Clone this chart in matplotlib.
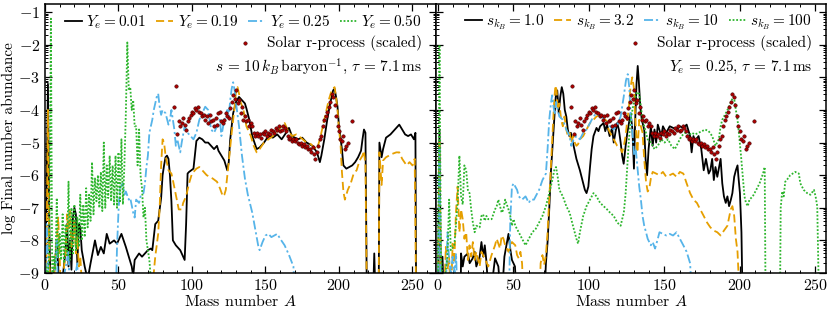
import numpy as np
import matplotlib
matplotlib.use("Agg")
import matplotlib.pyplot as plt
from matplotlib.ticker import MultipleLocator, FixedLocator

plt.rcParams['font.family'] = ['serif']
plt.rcParams['font.serif'] = ['cmr10', 'DejaVu Serif']
plt.rcParams['mathtext.fontset'] = 'cm'
plt.rcParams['axes.formatter.use_mathtext'] = True
plt.rcParams['font.size'] = 11.5

# ---------------- data: left panel (varying Ye) ----------------
ye001_A = [0, 1, 2, 3, 4, 7, 8, 9, 10, 14, 15, 16, 17, 18, 19, 20, 21, 22, 23, 24, 25, 27, 29, 31, 34, 36, 38, 40, 42, 44, 47, 49, 52, 55, 57, 59, 60, 61, 64, 66, 68, 70, 72, 73, 75, 77, 79, 80, 81, 82, 83, 84, 85, 86, 87, 89, 92, 95, 96, 97, 98, 101, 103, 105, 107, 109, 111, 113, 115, 117, 118, 120, 122, 124, 125, 126, 128, 130, 132, 134, 136, 137, 139, 141, 144, 146, 149, 152, 155, 158, 161, 164, 166, 168, 172, 175, 178, 182, 185, 187, 188, 190, 192, 194, 196, 197, 198, 199, 200, 202, 203, 205, 207, 209, 211, 213, 215, 216, 217, 218, 219, 223, 224, 225, 227, 227.5, 229, 230, 232, 235, 238, 241, 243, 245, 247, 249, 251, 252, 252.5]
ye001_y = [-10, -6.5, -3.2, -7.8, -10, -8.6, -8.0, -8.8, -10, -8.3, -7.5, -8.8, -8.0, -8.9, -7.3, -7.0, -7.2, -8.7, -7.5, -7.6, -8.3, -8.8, -9.2, -8.7, -8.0, -8.45, -8.2, -8.4, -7.8, -8.1, -8.0, -8.1, -7.8, -8.2, -8.5, -8.8, -9.1, -8.6, -8.4, -8.5, -8.4, -8.3, -8.25, -8.3, -7.5, -7.4, -6.7, -6.0, -5.7, -5.45, -5.4, -5.5, -6.0, -6.8, -8.0, -8.15, -8.3, -8.6, -7.5, -5.95, -5.9, -5.8, -4.95, -4.85, -4.9, -5.0, -5.0, -5.1, -5.2, -5.1, -5.25, -5.4, -5.55, -5.85, -5.6, -4.9, -4.1, -3.75, -3.6, -3.7, -3.8, -3.95, -4.3, -4.8, -5.2, -5.15, -5.0, -4.8, -4.85, -4.75, -4.9, -4.7, -4.55, -4.8, -4.9, -4.85, -5.0, -5.1, -5.3, -5.6, -5.4, -4.9, -4.3, -3.8, -3.4, -3.35, -3.6, -3.9, -4.5, -5.2, -5.7, -5.8, -5.75, -5.7, -5.6, -5.45, -5.25, -4.9, -4.6, -4.7, -10, -10, -8.4, -10, -10, -5.0, -5.45, -5.2, -4.85, -4.75, -4.6, -4.45, -4.6, -4.75, -4.8, -4.75, -4.9, -4.7, -10]

ye019_A = [0, 1, 2, 3, 5, 7, 8, 9, 10, 11, 13, 14, 15, 16, 17, 18, 19, 20, 21, 22, 23, 24, 26, 73, 74, 75, 77, 78, 79, 80, 81, 82, 84, 86, 87, 89, 91, 93, 94, 96, 98, 100, 103, 105, 107, 110, 114, 117, 119, 121, 122, 123, 125, 127, 129, 130, 131, 132, 133, 135, 137, 140, 142, 144, 146, 149, 152, 155, 158, 161, 163, 165, 168, 171, 174, 178, 181, 183, 185, 187, 189, 191, 193, 195, 197, 198, 199, 200, 201, 202, 203, 204, 206, 208, 210, 212, 214, 216, 217, 218, 219, 227, 227.5, 229, 230, 232, 236, 239, 241, 243, 246, 248, 250, 251.5, 252.5]
ye019_y = [-10, -8.5, -4.0, -8.8, -10, -8.6, -8.0, -7.3, -8.5, -10, -8.8, -8.4, -7.2, -7.7, -7.1, -8.2, -8.0, -7.4, -8.4, -7.9, -8.8, -8.5, -10, -10, -9.0, -8.5, -7.8, -7.0, -5.7, -4.9, -5.0, -5.4, -5.85, -5.95, -6.15, -6.6, -7.05, -7.05, -6.85, -6.65, -6.25, -5.95, -5.8, -5.75, -5.85, -6.0, -6.1, -6.2, -6.4, -6.65, -6.6, -6.45, -5.6, -4.7, -3.9, -3.4, -3.3, -3.5, -3.75, -4.0, -4.5, -4.8, -5.1, -5.3, -5.2, -5.0, -4.9, -4.8, -4.65, -4.5, -4.4, -4.6, -4.8, -4.75, -4.85, -5.0, -5.05, -5.15, -5.2, -4.9, -4.5, -4.1, -3.7, -3.4, -3.3, -3.6, -4.0, -4.6, -5.0, -5.9, -6.5, -6.75, -6.45, -6.25, -5.95, -5.85, -5.55, -5.4, -5.25, -5.7, -10, -10, -5.3, -6.3, -5.55, -5.45, -5.35, -5.3, -5.3, -5.5, -5.7, -5.6, -5.7, -5.5, -10]

ye025_A = [0, 1, 2, 3, 7, 8, 9, 15, 16, 17, 22, 23, 48, 49, 50, 51, 53, 54, 55, 57, 58, 60, 61, 62, 64, 65, 67, 68, 69, 70, 71, 73, 74, 76, 77, 78, 79, 80, 82, 84, 85, 86, 88, 89, 90, 92, 93, 95, 97, 99, 101, 103, 105, 107, 109, 111, 113, 115, 117, 119, 120, 122, 124, 125, 126, 127, 128, 129, 130, 132, 134, 136, 138, 141, 143, 145, 146, 148, 150, 152, 154, 156, 158, 160, 163, 166, 169, 170.5]
ye025_y = [-10, -7.5, -8.5, -10, -8.8, -8.0, -10, -8.6, -8.3, -10, -8.7, -10, -10, -8.2, -7.1, -6.4, -6.25, -6.6, -6.5, -6.75, -6.7, -7.15, -7.3, -6.75, -6.85, -6.65, -6.55, -6.25, -5.75, -5.4, -4.7, -4.3, -4.0, -3.6, -3.5, -3.9, -4.15, -4.0, -4.1, -4.45, -4.3, -4.0, -4.6, -5.1, -4.9, -5.3, -5.0, -4.5, -4.7, -4.8, -4.9, -4.7, -4.3, -4.1, -3.9, -4.0, -4.6, -4.7, -4.5, -4.3, -4.8, -4.3, -4.0, -4.2, -3.7, -3.35, -3.15, -3.4, -3.8, -4.5, -5.4, -6.1, -6.6, -7.15, -7.65, -8.15, -8.3, -8.05, -7.85, -7.8, -7.9, -7.85, -7.8, -7.95, -8.15, -8.45, -8.8, -10]

ye050_A = [1, 2, 3, 4, 5, 6, 7, 8, 9, 10, 11, 12, 13, 14, 15, 16, 17, 18, 19, 20, 21, 22, 23, 24, 25, 26, 27, 28, 29, 30, 31, 32, 33, 34, 35, 36, 37, 38, 39, 40, 41, 42, 43, 44, 45, 46, 47, 48, 49, 50, 51, 52, 53, 54, 55, 56, 57, 58, 59, 60, 61, 62, 63, 64, 65, 66, 67, 68, 69, 70, 71, 72, 73]
ye050_y = [-8.8, -9.5, -8.0, -1.2, -10, -8.5, -8.9, -6.7, -8.5, -7.8, -8.6, -7.2, -8.7, -7.5, -8.5, -6.2, -8.6, -7.0, -8.4, -6.9, -8.3, -7.3, -8.2, -6.6, -8.0, -6.9, -7.9, -6.4, -7.6, -6.6, -7.4, -5.6, -7.2, -6.1, -6.8, -6.0, -7.0, -5.9, -7.1, -5.0, -7.0, -5.7, -6.7, -5.4, -6.8, -5.7, -6.9, -5.4, -7.0, -5.3, -6.8, -4.9, -6.9, -5.7, -4.1, -1.93, -3.4, -3.3, -4.0, -3.7, -4.5, -4.5, -5.7, -4.6, -6.0, -6.4, -7.3, -7.0, -8.0, -8.3, -8.6, -9.2, -10]

# ---------------- data: right panel (varying entropy) ----------------
s1_A = [0, 1, 2, 3, 4, 15, 15.3, 16.4, 17.5, 19.8, 21, 23, 24.3, 25.4, 27.6, 28.8, 30, 31, 32, 34, 37.8, 40, 42, 44, 46.7, 48, 49, 51, 52.4, 70.3, 71.5, 72.6, 73.7, 74.8, 76, 77, 78, 79, 80, 81, 82, 83, 84, 85, 86, 87, 88, 89.4, 91.7, 94, 96.2, 97.3, 98.4, 99.6, 100.7, 101.8, 103, 105, 106.3, 107.4, 109.7, 110.8, 112, 113.7, 115.3, 116.4, 117.5, 118.7, 119.8, 121, 122, 123, 124.3, 125.4, 126.5, 127.6, 128.8, 129.8, 130.5, 131.5, 132.3, 133, 134, 135, 136.6, 137.5, 138.5, 139.5, 141, 142.2, 143.4, 144.5, 145.6, 147.9, 149, 151.2, 153.5, 155.7, 158, 160.2, 162.5, 164.7, 167, 168, 169.2, 170.3, 172.6, 174.4, 176, 177.5, 179.3, 180.4, 181.6, 182.7, 183.8, 185, 187.2, 188.3, 189.4, 190.6, 191.7, 192.8, 194, 195, 196.2, 197.3, 198.4, 199, 200, 201, 201.8]
s1_y = [-10, -4.6, -10, -8.5, -10, -10, -8.4, -8.8, -8.5, -8.4, -8.7, -8.55, -8.35, -8.8, -8.5, -8.05, -8.5, -8.15, -8.6, -10, -8.55, -8.8, -10, -8.5, -7.8, -8.3, -8.6, -8.8, -10, -10, -8.7, -8.05, -7.05, -5.9, -5.0, -4.3, -3.6, -3.4, -4.1, -3.6, -3.3, -3.5, -4.0, -4.2, -4.6, -4.8, -4.7, -5.0, -5.5, -5.85, -6.25, -6.45, -6.55, -6.35, -5.75, -5.2, -4.8, -4.55, -4.65, -4.5, -4.4, -4.65, -4.45, -4.8, -4.55, -5.0, -4.7, -4.4, -4.6, -5.0, -5.4, -5.65, -5.1, -4.7, -4.4, -4.1, -4.6, -5.8, -4.5, -3.2, -2.65, -3.1, -3.9, -4.3, -4.6, -5.5, -6.0, -5.2, -4.5, -5.1, -4.6, -5.0, -4.45, -4.8, -4.5, -4.7, -4.5, -4.55, -4.6, -4.5, -4.55, -4.45, -4.8, -5.3, -4.8, -4.95, -4.8, -5.2, -5.85, -5.5, -5.95, -5.85, -5.5, -6.15, -5.75, -6.05, -5.5, -6.25, -6.65, -6.85, -6.65, -6.95, -6.75, -6.55, -6.05, -5.85, -5.7, -6.05, -6.55, -7.75, -10]

s32_A = [0, 1, 2, 4, 5.2, 6.3, 7.4, 8.5, 9.7, 10.8, 11.9, 13, 14.2, 15.3, 16.4, 17.5, 18.7, 19.8, 20.9, 22, 23.1, 24.3, 25.4, 27.6, 28.8, 31, 33.3, 35.5, 37.8, 38.9, 41.1, 42.2, 43.4, 44.5, 46.7, 49, 51.2, 52.4, 53.5, 54.6, 55.7, 56.9, 67, 68, 69.2, 70.3, 71.5, 72.6, 73.7, 74.8, 76, 77, 77.8, 78.6, 79.3, 80.4, 81.6, 82.7, 83.8, 85, 86, 87.2, 88.3, 89.4, 90.6, 91.7, 92.8, 94, 96.2, 98.4, 100.7, 103, 105, 107.4, 109.7, 112, 113, 114, 116.4, 118.7, 121, 122, 123.1, 124.3, 125.4, 126.5, 127.5, 128.7, 129.7, 130.5, 131.3, 132.1, 133.3, 135.5, 136.6, 137.8, 138.9, 140, 141, 142.2, 144.5, 146.7, 149, 151.2, 153.5, 155.7, 158, 160.2, 162.5, 164.7, 167, 169.2, 171.5, 173.7, 176, 178.2, 180.4, 182.7, 185, 187.2, 189.4, 191.7, 193.9, 195, 196.2, 197.3, 198.4, 200]
s32_y = [-10, -5.0, -10, -10, -8.2, -8.9, -8.5, -10, -8.1, -8.7, -7.15, -6.35, -7.75, -7.05, -7.35, -7.95, -7.75, -8.6, -8.15, -8.5, -8.05, -8.6, -8.35, -8.8, -8.35, -8.55, -8.8, -8.45, -8.15, -7.95, -8.25, -7.85, -7.95, -8.15, -8.35, -8.05, -8.15, -8.45, -8.55, -8.35, -8.7, -10, -10, -8.7, -8.45, -8.75, -8.45, -7.75, -6.75, -5.75, -4.7, -3.7, -3.25, -3.4, -4.0, -3.8, -4.3, -4.5, -4.2, -4.6, -4.8, -4.7, -5.0, -4.8, -5.0, -5.1, -5.05, -4.9, -4.8, -4.6, -4.4, -4.3, -4.2, -4.15, -4.25, -4.35, -4.6, -4.7, -4.9, -5.1, -5.2, -5.3, -5.1, -4.8, -4.3, -3.9, -3.3, -3.0, -3.3, -4.1, -4.7, -5.3, -4.3, -4.7, -5.5, -6.2, -6.5, -6.4, -6.1, -5.9, -5.95, -6.0, -5.9, -6.05, -6.0, -5.95, -6.05, -5.9, -5.95, -6.25, -6.55, -6.75, -6.85, -7.05, -7.25, -7.45, -7.6, -7.7, -7.75, -7.85, -7.7, -7.55, -7.05, -6.95, -7.25, -7.95, -8.35, -10]

s10_A = [0, 1, 2, 5, 6.3, 7.4, 8.5, 9.7, 11, 12, 13, 47, 47.9, 49, 50.1, 51.2, 52.4, 53.5, 55.7, 58, 60.2, 61.3, 63.6, 64.7, 67, 69.2, 71.5, 72.6, 73.7, 74.8, 75.6, 76.5, 77.5, 78.3, 79.3, 80.4, 82.7, 85, 87.2, 88.3, 89.4, 91.7, 94, 96.2, 98.4, 100.7, 103, 105, 107.4, 109.7, 112, 114, 116.4, 118.7, 121, 122, 123, 124.5, 125.7, 126.7, 127.6, 128.8, 130, 131, 132.1, 133.3, 134.4, 135.5, 136.6, 137.8, 138.9, 141, 142.2, 143.8, 145.6, 146.7, 149, 151.2, 153.5, 155.7, 158, 160.2, 162.5, 164.7, 167, 168.5]
s10_y = [-10, -5.2, -10, -10, -7.75, -8.6, -9.0, -8.5, -9.0, -8.4, -10, -10, -7.35, -6.35, -6.25, -6.35, -6.45, -6.65, -6.75, -6.65, -6.85, -6.75, -6.75, -6.65, -6.45, -6.15, -5.95, -5.2, -4.3, -3.8, -3.55, -3.9, -4.15, -3.75, -4.0, -4.2, -4.3, -4.6, -4.8, -5.1, -4.95, -4.8, -4.9, -4.7, -4.6, -4.4, -4.2, -4.1, -4.2, -4.25, -4.4, -4.5, -4.6, -4.45, -4.2, -3.9, -3.6, -3.1, -2.9, -3.3, -4.1, -4.7, -5.4, -5.2, -5.75, -6.35, -6.75, -7.25, -7.55, -7.75, -7.95, -8.15, -8.05, -8.25, -7.95, -7.75, -7.8, -7.85, -7.8, -7.85, -7.75, -7.95, -8.15, -8.35, -8.7, -10]

s100_A = [0, 1, 2, 3, 4, 5, 6.3, 7.4, 8.5, 10.8, 11.9, 13, 14.2, 15.3, 16.4, 17.5, 18.7, 19.8, 20.9, 22, 23.1, 24.3, 25.4, 27.6, 28.8, 29.9, 31, 32.1, 33.3, 35.5, 37.8, 38.9, 40, 41.1, 42.2, 43.4, 44.5, 46.7, 47.9, 49, 50.1, 51.2, 53.5, 55.7, 58, 60.2, 62.5, 64.7, 67, 69.2, 71.5, 73.7, 76, 77, 78.2, 79.3, 80.4, 82.7, 85, 87.2, 89.4, 91.7, 92.8, 94, 96.2, 98.4, 100.7, 103, 105, 107.4, 109.7, 112, 114, 116.4, 118.7, 121, 122, 123.1, 124.3, 125.4, 126.5, 127.6, 130, 132, 133.3, 134.4, 135.5, 136.6, 138.9, 141, 143.4, 145.6, 147.9, 150.1, 152.4, 154.6, 156.9, 159.1, 161.3, 163.6, 165.8, 168, 170.3, 172.6, 174.8, 177, 179.3, 181.6, 183.8, 186, 187.2, 188.3, 190.6, 192.8, 195, 196, 197.3, 198.4, 199.5, 200.7, 201.8, 203, 204, 205.2, 206.3, 208.5, 210.8, 213, 215.3, 216.4, 217, 226.5, 227, 228, 229, 230, 231, 233.3, 236.6, 239, 240, 242.2, 244.5, 246.7, 249, 250.1, 251.2, 252.4]
s100_y = [-9.5, -2.0, -8.5, -9.2, -10, -9.0, -8.5, -6.75, -8.3, -8.15, -7.55, -6.85, -5.4, -6.65, -6.9, -5.7, -5.85, -6.45, -6.55, -7.05, -7.45, -7.75, -7.55, -7.6, -7.25, -7.2, -7.4, -7.25, -7.35, -7.35, -7.05, -6.95, -6.75, -6.95, -7.15, -7.05, -6.75, -7.05, -7.25, -7.55, -7.35, -7.55, -7.75, -7.95, -8.15, -7.95, -7.75, -7.65, -7.45, -7.25, -6.95, -6.55, -6.1, -5.85, -5.75, -6.05, -6.45, -6.65, -6.95, -7.15, -7.55, -7.95, -8.1, -7.75, -7.25, -6.95, -6.75, -6.55, -6.65, -6.85, -6.95, -7.05, -7.15, -7.25, -7.45, -7.55, -7.35, -7.15, -6.55, -5.75, -4.9, -4.3, -3.7, -3.45, -3.5, -3.9, -4.3, -4.5, -4.9, -5.0, -5.2, -5.1, -4.9, -5.0, -4.9, -5.1, -5.2, -5.0, -4.8, -4.7, -4.8, -4.7, -4.75, -4.7, -4.65, -4.6, -4.65, -4.8, -5.1, -4.9, -4.5, -4.3, -4.1, -3.9, -3.65, -3.6, -4.0, -4.3, -4.8, -5.4, -6.0, -6.65, -6.85, -6.95, -6.75, -6.65, -6.45, -6.25, -5.95, -5.75, -10, -10, -7.0, -6.5, -6.65, -6.2, -6.15, -6.0, -5.9, -5.95, -6.25, -6.45, -6.55, -6.6, -6.45, -6.65, -6.95, -10]

# ---------------- solar r-process (scaled) ----------------
solar_A = [88, 89, 90, 91, 92, 93, 94, 95, 96, 97, 98, 99, 100, 101, 102, 103, 104, 105, 106, 107, 108, 109, 110, 111, 112, 113, 114, 115, 116, 117, 118, 119, 120, 121, 122, 123, 124, 125, 126, 127, 128, 129, 130, 131, 132, 133, 134, 135, 136, 137, 138, 139, 140, 141, 142, 143, 144, 145, 146, 147, 148, 149, 150, 151, 152, 153, 154, 155, 156, 157, 158, 159, 160, 161, 162, 163, 164, 165, 166, 167, 168, 169, 170, 171, 172, 173, 174, 175, 176, 177, 178, 179, 180, 181, 182, 183, 184, 185, 186, 187, 188, 189, 190, 191, 192, 193, 194, 195, 196, 197, 198, 199, 200, 201, 202, 203, 204, 205, 206, 209]
solar_y = [-3.9, -3.25, -4.75, -4.35, -4.5, -4.4, -4.25, -4.45, -4.6, -4.35, -4.25, -4.15, -4.05, -4.1, -3.95, -4.0, -3.9, -4.05, -4.1, -4.2, -4.15, -4.3, -4.2, -4.4, -4.15, -4.35, -4.3, -4.5, -4.25, -4.45, -4.1, -4.05, -4.35, -4.4, -4.3, -4.1, -4.2, -4.25, -3.95, -3.75, -3.55, -3.65, -3.4, -3.8, -3.7, -4.1, -3.9, -4.3, -4.2, -4.35, -4.3, -4.5, -4.4, -4.5, -4.7, -4.8, -4.7, -4.8, -4.75, -4.85, -4.7, -4.75, -4.65, -4.8, -4.7, -4.75, -4.6, -4.65, -4.7, -4.55, -4.6, -4.5, -4.65, -4.6, -4.5, -4.55, -4.65, -4.8, -4.9, -4.85, -4.95, -4.9, -4.95, -4.9, -5.0, -5.05, -5.0, -5.1, -5.05, -5.15, -5.1, -5.2, -5.2, -5.3, -5.15, -5.35, -5.5, -5.3, -5.1, -4.9, -4.8, -4.5, -4.3, -4.2, -4.05, -3.9, -3.75, -3.5, -3.6, -3.85, -4.2, -4.5, -4.65, -4.9, -4.95, -4.8, -5.2, -5.1, -5.0, -4.35]

left_labels = [r'$Y_e=0.01$', r'$Y_e=0.19$', r'$Y_e=0.25$', r'$Y_e=0.50$']
right_labels = [r'$s_{k_B}=1.0$', r'$s_{k_B}=3.2$', r'$s_{k_B}=10$', r'$s_{k_B}=100$']
left_note = r'$s\,=\,10\,k_B\,\mathrm{baryon}^{-1}$, $\tau\,=\,7.1\,\mathrm{ms}$'
right_note = r'$Y_e\,=\,0.25$, $\tau\,=\,7.1\,\mathrm{ms}$'
solar_label = 'Solar r-process (scaled)'

colors = ['black', '#E69F00', '#56B4E9', '#2DB52D']
styles = [dict(ls='-'), dict(ls=(0, (4.5, 2.2))), dict(ls=(0, (5, 1.6, 1.2, 1.6))), dict(ls=(0, (1.0, 1.0)))]

fig = plt.figure(figsize=(8.3, 3.12), dpi=100)
axL = fig.add_axes([45/830, 1-273/312, 391/830, 269/312])
axR = fig.add_axes([436/830, 1-273/312, 390/830, 269/312], sharey=axL)

left_series = [(ye001_A, ye001_y), (ye019_A, ye019_y), (ye025_A, ye025_y), (ye050_A, ye050_y)]
right_series = [(s1_A, s1_y), (s32_A, s32_y), (s10_A, s10_y), (s100_A, s100_y)]

minor_y = [k + np.log10(m) for k in range(-10, 0) for m in range(2, 10)]

for ax, series, labels, note, xlim, wpx in [(axL, left_series, left_labels, left_note, (0, 266), 391),
                                             (axR, right_series, right_labels, right_note, (-1.3, 257), 390)]:
    handles = []
    for (A, y), c, st, lab in zip(series, colors, styles, labels):
        h, = ax.plot(A, y, color=c, lw=1.3, label=lab, **st)
        handles.append(h)
    sol = ax.scatter(solar_A, solar_y, s=6, color='#B00000', edgecolor='#400000', linewidths=0.4,
                     zorder=5, label=solar_label)
    ax.set_xlim(*xlim)
    ax.set_ylim(-9, -0.75)
    ax.xaxis.set_major_locator(MultipleLocator(50))
    ax.xaxis.set_minor_locator(MultipleLocator(10))
    ax.yaxis.set_major_locator(MultipleLocator(1))
    ax.yaxis.set_minor_locator(FixedLocator(minor_y))
    ax.tick_params(which='both', direction='in', top=True, right=True)
    ax.tick_params(which='major', length=5, width=0.9, pad=3.5)
    ax.tick_params(which='minor', length=2.5, width=0.7)
    ax.set_xlabel(r'Mass number $A$', labelpad=0)
    for sp in ax.spines.values():
        sp.set_linewidth(1.1)
    xr = 1 - 14/wpx
    leg1 = ax.legend(handles=handles, loc='center right', ncol=4, frameon=False,
                     bbox_to_anchor=(xr, 1 - 18/269),
                     handlelength=1.1, handletextpad=0.3, columnspacing=0.65,
                     borderaxespad=0, borderpad=0, fontsize=11)
    ax.add_artist(leg1)
    ax.legend(handles=[sol], loc='center right', frameon=False, bbox_to_anchor=(xr, 1 - 39/269),
              handlelength=1.0, handletextpad=0.9, borderaxespad=0, borderpad=0, fontsize=11,
              scatterpoints=1)
    ax.text(xr, 1 - 63/269, note, transform=ax.transAxes, ha='right', va='center', fontsize=11)

axL.set_ylabel('log Final number abundance', fontsize=11)
axL.yaxis.set_label_coords(-29/391, 0.5)
plt.setp(axR.get_yticklabels(), visible=False)

fig.savefig('out.png', dpi=100)
